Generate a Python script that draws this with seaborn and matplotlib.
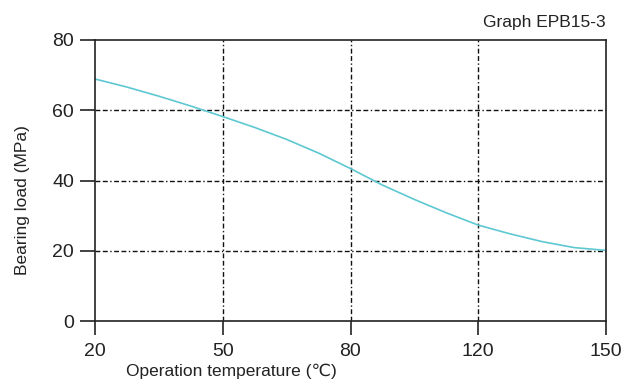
import numpy as np
import pandas as pd
import matplotlib
matplotlib.use("Agg")
import matplotlib.pyplot as plt
import seaborn as sns

# x-axis ticks are evenly spaced even though the values are not
tick_temps = [20, 50, 80, 120, 150]
y_ticks = [0, 20, 40, 60, 80]

# curve
temp = [20, 27.5, 35, 42.5, 50, 57.5, 65, 72.5, 80, 90, 100, 110, 120, 127.5, 135, 142.5, 150]
load = [68.9, 66.6, 64.0, 61.2, 58.2, 55.1, 51.7, 47.8, 43.4, 38.7, 34.6, 30.8, 27.3, 24.8, 22.6, 20.9, 20.1]

sns.set_style("white")
plt.rcParams['font.family'] = ['Liberation Sans', 'DejaVu Sans']

df = pd.DataFrame({"temp": temp, "load": load})
# map temperature to the evenly spaced axis position
df["pos"] = np.interp(df["temp"], tick_temps, range(len(tick_temps)))

fig = plt.figure(figsize=(6.36, 3.88), dpi=100)
ax = fig.add_axes([95/636, 1 - 321/388, 511/636, 281/388])

sns.lineplot(data=df, x="pos", y="load", ax=ax, color="#5ec8d2", linewidth=1.2)

ax.set_xlim(0, len(tick_temps) - 1)
ax.set_ylim(0, 80)
ax.set_xticks(range(len(tick_temps)))
ax.set_xticklabels([str(t) for t in tick_temps])
ax.set_yticks(y_ticks)

gstyle = dict(color="#111111", linewidth=1.0, linestyle=(0, (3.5, 1.8, 3.5, 1.8, 1, 1.8)))
for p in range(1, len(tick_temps) - 1):
    ax.axvline(p, **gstyle, zorder=1)
for v in y_ticks[1:-1]:
    ax.axhline(v, **gstyle, zorder=1)

for s in ax.spines.values():
    s.set_linewidth(1.2)
    s.set_color("#222222")

ax.tick_params(axis="y", direction="out", length=11, width=1.2, color="#222222",
               labelsize=14, pad=4, left=True)
ax.tick_params(axis="x", direction="out", length=10, width=1.2, color="#222222",
               labelsize=14, pad=6, bottom=True)
for lbl in ax.get_xticklabels() + ax.get_yticklabels():
    lbl.set_color("#222222")

ax.set_xlabel("Operation temperature (℃)", fontsize=12.5, color="#222222")
ax.xaxis.set_label_coords(0.266, -0.15)
ax.set_ylabel("Bearing load (MPa)", fontsize=12.5, color="#222222")
ax.yaxis.set_label_coords(-0.128, 0.43)

fig.text(606/636, 1 - 22/388, "Graph EPB15-3", ha="right", va="center",
         fontsize=12.5, color="#222222")

fig.savefig("out.png", dpi=100)
